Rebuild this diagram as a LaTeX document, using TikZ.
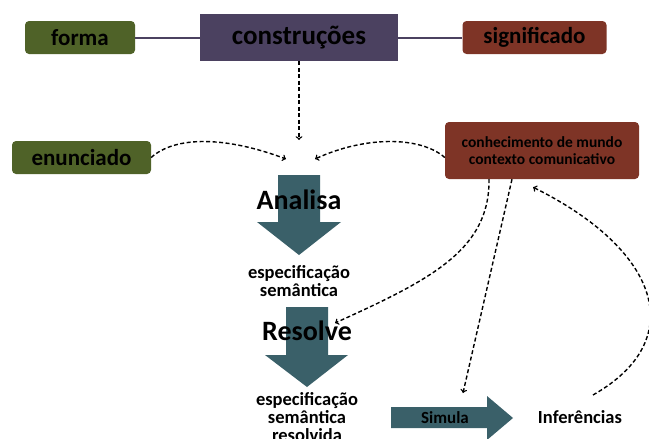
\documentclass[tikz,border=0pt]{standalone}
\usepackage{fontspec}
\setmainfont{Carlito}
\usetikzlibrary{positioning}
\definecolor{verde}{HTML}{4F6228}
\definecolor{roxo}{HTML}{4B4160}
\definecolor{tijolo}{HTML}{7E3426}
\definecolor{petroleo}{HTML}{3A6069}
\newcommand{\tam}[1]{\fontsize{#1}{1.05\dimexpr#1pt\relax}\selectfont}

\begin{document}
\begin{tikzpicture}[x=1pt,y=-1pt,
    caixa/.style={rounded corners=4pt,font=\bfseries\tam{23},minimum height=33pt,inner sep=0pt},
    rotulo/.style={font=\bfseries\fontsize{18.5}{18}\selectfont,align=center,inner sep=0pt},
    ligacao/.style={draw=roxo,line width=2pt},
    tracejado/.style={->,dash pattern=on 4pt off 2.5pt,line width=1.4pt}]
      \useasboundingbox (0,0) rectangle (649,439);

      \node[caixa,fill=verde,minimum width=110pt] (forma) at (80,37.5) {forma};
      \node[caixa,fill=roxo,rounded corners=0pt,minimum width=198pt,minimum height=47pt,font=\bfseries\tam{27}] (constr) at (299,37.5) {construções};
      \node[caixa,fill=tijolo,minimum width=144pt] (signif) at (534.5,37.5) {significado};
      \node[caixa,fill=verde,minimum width=139pt] (enunc) at (81.5,157.5) {enunciado};
      \node[caixa,fill=tijolo,minimum width=194pt,minimum height=57pt,align=center,font=\bfseries\fontsize{15.5}{16.5}\selectfont] (conhec) at (542,150.5) {conhecimento de mundo\\contexto comunicativo};

      \draw[ligacao] (forma) -- (constr);
      \draw[ligacao] (constr) -- (signif);

      \fill[petroleo] (278,175) -- (320,175) -- (320,222) -- (341,222) -- (299,255) -- (257,222) -- (278,222) -- cycle;
      \fill[petroleo] (286,307) -- (328,307) -- (328,355) -- (348,355) -- (307,387) -- (265,355) -- (286,355) -- cycle;
      \fill[petroleo] (391,407) -- (487,407) -- (487,396) -- (513,418) -- (487,440) -- (487,428) -- (391,428) -- cycle;

      \node[rotulo,font=\bfseries\tam{28}] (analisa) at (299,200) {Analisa};
      \node[rotulo] (espec) at (299,281) {especificação\\semântica};
      \node[rotulo,font=\bfseries\tam{28}] (resolve) at (307,331) {Resolve};
      \node[rotulo] (resolv) at (307,417) {especificação\\semântica\\resolvida};
      \node[rotulo,font=\bfseries\tam{17}] (simula) at (445,418) {Simula};
      \node[rotulo] (infer) at (580,417) {Inferências};

      \coordinate (alvo) at (299,140);
      \coordinate (alvoE) at (286,159);
      \coordinate (alvoD) at (315,159);
      \coordinate (alvoR) at (335,323);
      \coordinate (alvoS) at (463,393);
      \coordinate (saiInf) at (593,395);

      \draw[tracejado] (constr.south) -- (alvo);
      \draw[tracejado] (enunc.east) .. controls (175,136) and (225,136) .. (alvoE);
      \draw[tracejado] ([yshift=-7pt]conhec.west) .. controls (420,136) and (365,136) .. (alvoD);
      \draw[tracejado] ([xshift=-53pt]conhec.south) .. controls (490,250) and (430,280) .. (alvoR);
      \draw[tracejado] ([xshift=-30pt]conhec.south) -- (alvoS);
      \draw[tracejado] (saiInf) .. controls (690,340) and (660,250) .. ([xshift=-9pt,yshift=-8pt]conhec.south);
    \end{tikzpicture}
\end{document}
